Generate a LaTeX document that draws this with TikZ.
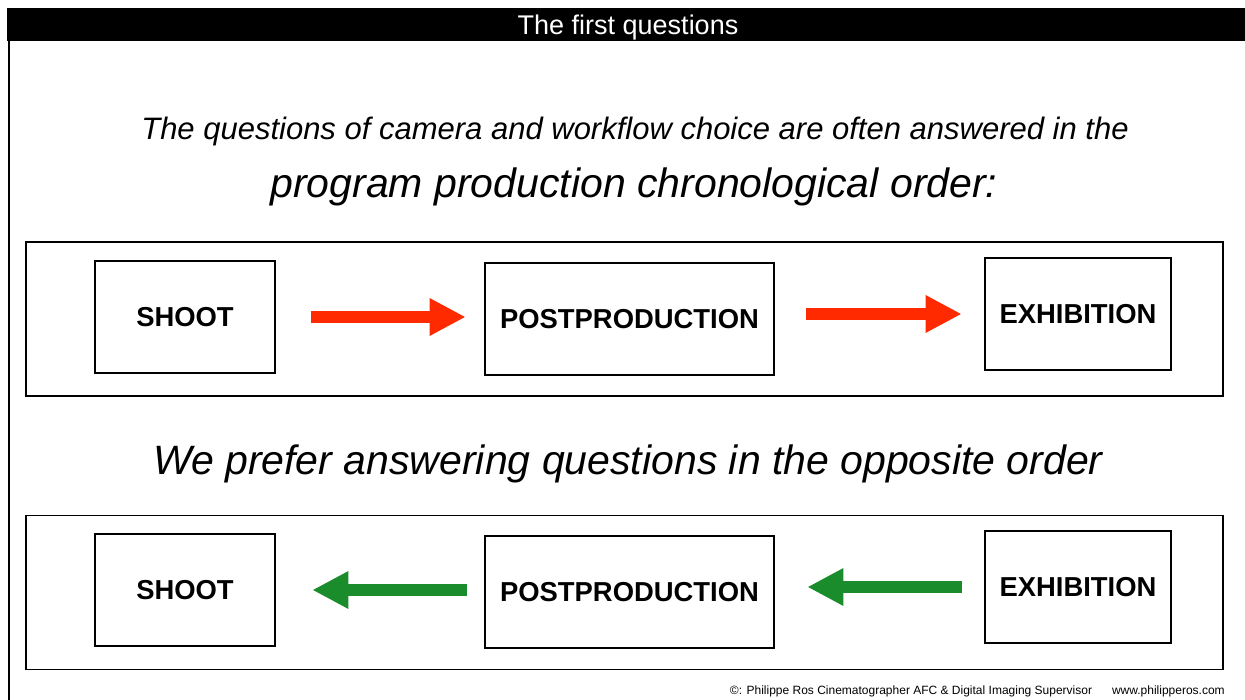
\documentclass[tikz,border=0pt]{standalone}
\usepackage{fontspec}
\setmainfont{Liberation Sans}
\usetikzlibrary{arrows.meta}
\definecolor{arrred}{HTML}{FF2A00}
\definecolor{arrgreen}{HTML}{1B8C2B}
\begin{document}
\begin{tikzpicture}[x=1pt,y=-1pt,
  panel/.style={draw=black,line width=1.3pt,minimum width=1197pt,minimum height=154pt,inner sep=0pt},
  stagebox/.style={draw=black,line width=2.6pt,inner sep=0pt,font=\fontsize{27.4}{30}\selectfont\bfseries},
  flow/.style={line width=12.5pt,-{Triangle[length=36pt,width=35pt]}},
  redflow/.style={flow,draw=arrred},
  greenflow/.style={flow,draw=arrgreen},
  ital/.style={inner sep=0pt,font=\itshape}]
\useasboundingbox (0,0) rectangle (1245,700);
\fill[black] (7,8) rectangle (1245,41);
\draw[line width=2pt] (8.5,41) -- (8.5,700);
\node[text=white,inner sep=0pt,font=\fontsize{27}{30}\selectfont] (title) at (628,28) {The first questions};
\node[ital,font=\fontsize{31}{34}\selectfont\itshape] (q1) at (635,131) {The questions of camera and workflow choice are often answered in the};
\node[ital,font=\fontsize{41}{44}\selectfont\itshape] (q2) at (634,187) {program production chronological order:};
\node[ital,font=\fontsize{41}{44}\selectfont\itshape] (q3) at (628,464) {We prefer answering questions in the opposite order};
% upper panel
\node[panel] (up) at (624.5,319) {};
\node[stagebox,minimum width=180pt,minimum height=112pt] (s1) at (185,317) {SHOOT};
\node[stagebox,minimum width=289pt,minimum height=112pt] (p1) at (629.5,319) {POSTPRODUCTION};
\node[stagebox,minimum width=186pt,minimum height=112pt] (e1) at (1078,314) {EXHIBITION};
\draw[redflow,shorten <=35pt,shorten >=18pt] (s1.east) -- (s1.east -| p1.west);
\draw[redflow,shorten <=31pt,shorten >=22pt] (e1.west -| p1.east) -- (e1.west);
% lower panel
\node[panel] (lo) at (624.5,592.5) {};
\node[stagebox,minimum width=180pt,minimum height=112pt] (s2) at (185,590) {SHOOT};
\node[stagebox,minimum width=289pt,minimum height=112pt] (p2) at (629.5,592) {POSTPRODUCTION};
\node[stagebox,minimum width=186pt,minimum height=112pt] (e2) at (1078,587) {EXHIBITION};
\draw[greenflow,shorten <=17pt,shorten >=36pt] (s2.east -| p2.west) -- (s2.east);
\draw[greenflow,shorten <=22pt,shorten >=32pt] (e2.west) -- (e2.west -| p2.east);
\node[inner sep=0pt,font=\fontsize{12}{14}\selectfont,anchor=east] (credit) at (1225,691) {©: Philippe Ros Cinematographer AFC \& Digital Imaging Supervisor\hspace{20pt}www.philipperos.com};
\end{tikzpicture}
\end{document}
